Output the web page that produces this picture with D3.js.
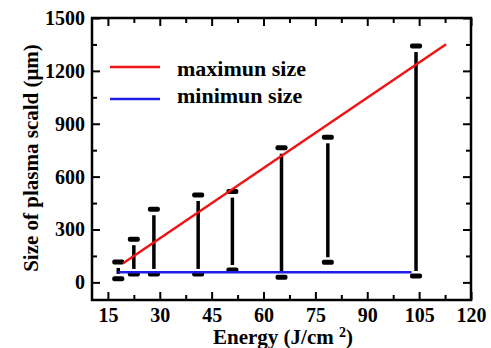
<!DOCTYPE html>
<html>
<head>
<meta charset="utf-8">
<script src="https://cdn.jsdelivr.net/npm/d3@7"></script>
<style>
  body { margin: 0; background: #fff; }
  text { font-family: "Liberation Serif", "Times New Roman", serif; font-weight: bold; }
</style>
</head>
<body>
<div id="chart"></div>
<script>
// energy of each shot and the scald size range measured there
var energy  = [18, 22.5, 28.3, 41.1, 51, 65.2, 78.6, 104.1];
var sizeMin = [20, 48, 48, 48, 70, 29, 114, 36];
var sizeMax = [116, 245, 415, 496, 515, 764, 823, 1341];

// fitted lines (end points)
var maxLine = [[19.4, 108], [112.8, 1351]];
var minLine = [[18, 57], [102.8, 57]];

var xTicks = [15, 30, 45, 60, 75, 90, 105, 120];
var yTicks = [0, 300, 600, 900, 1200, 1500];
var xMinor = [22.5, 37.5, 52.5, 67.5, 82.5, 97.5, 112.5];
var yMinor = [150, 450, 750, 1050, 1350];

var legendItems = [
  {label: "maximun size", color: "#f01414"},
  {label: "minimun size", color: "#1e1ee6"}
];

var width = 491, height = 348;
var margin = {top: 18, right: 20, bottom: 48, left: 92};
var plotW = 471 - margin.left, plotH = 300 - margin.top;

var svg = d3.select("#chart").append("svg")
  .attr("width", width)
  .attr("height", height);

var g = svg.append("g")
  .attr("transform", "translate(" + margin.left + "," + margin.top + ")");

var x = d3.scaleLinear().domain([10.4, 120]).range([0, plotW]);
var y = d3.scaleLinear().domain([-100, 1500]).range([plotH, 0]);

// axes: ticks point inward on all four sides
function styleAxis(sel) {
  sel.select(".domain").remove();
  sel.selectAll(".tick line").attr("stroke", "#000").attr("stroke-width", 2);
  sel.selectAll(".tick text").style("font-size", "20px").attr("fill", "#000");
}

g.append("g")
  .attr("transform", "translate(0," + plotH + ")")
  .call(d3.axisBottom(x).tickValues(xTicks).tickSizeInner(-8).tickPadding(8).tickFormat(d3.format("d")))
  .call(styleAxis);

g.append("g")
  .attr("transform", "translate(0," + plotH + ")")
  .call(d3.axisBottom(x).tickValues(xMinor).tickSizeInner(-5).tickFormat(""))
  .call(styleAxis);

g.append("g")
  .call(d3.axisTop(x).tickValues(xTicks).tickSizeInner(-8).tickFormat(""))
  .call(styleAxis);
g.append("g")
  .call(d3.axisTop(x).tickValues(xMinor).tickSizeInner(-5).tickFormat(""))
  .call(styleAxis);

g.append("g")
  .call(d3.axisLeft(y).tickValues(yTicks).tickSizeInner(-8).tickPadding(7).tickFormat(d3.format("d")))
  .call(styleAxis);
g.append("g")
  .call(d3.axisLeft(y).tickValues(yMinor).tickSizeInner(-5).tickFormat(""))
  .call(styleAxis);

g.append("g")
  .attr("transform", "translate(" + plotW + ",0)")
  .call(d3.axisRight(y).tickValues(yTicks).tickSizeInner(-8).tickFormat(""))
  .call(styleAxis);
g.append("g")
  .attr("transform", "translate(" + plotW + ",0)")
  .call(d3.axisRight(y).tickValues(yMinor).tickSizeInner(-5).tickFormat(""))
  .call(styleAxis);

// frame
g.append("rect")
  .attr("width", plotW)
  .attr("height", plotH)
  .attr("fill", "none")
  .attr("stroke", "#000")
  .attr("stroke-width", 2.5);

// range bars
var bars = g.selectAll(".bar")
  .data(energy.map(function(e, i) { return {e: e, lo: sizeMin[i], hi: sizeMax[i]}; }))
  .enter().append("g")
  .attr("class", "bar");

bars.append("line")
  .attr("x1", d => x(d.e))
  .attr("x2", d => x(d.e))
  .attr("y1", d => y(d.hi) + 6)
  .attr("y2", d => y(d.lo) - 5)
  .attr("stroke", "#000")
  .attr("stroke-width", 3.5);

bars.selectAll(".cap")
  .data(d => [{e: d.e, v: d.hi}, {e: d.e, v: d.lo}])
  .enter().append("rect")
  .attr("class", "cap")
  .attr("x", d => x(d.e) - 6)
  .attr("y", d => y(d.v) - 2.5)
  .attr("width", 12)
  .attr("height", 5)
  .attr("rx", 2)
  .attr("fill", "#000");

// fitted lines
var line = d3.line().x(d => x(d[0])).y(d => y(d[1]));

g.append("path")
  .datum(minLine)
  .attr("d", line)
  .attr("fill", "none")
  .attr("stroke", legendItems[1].color)
  .attr("stroke-width", 2.5);

g.append("path")
  .datum(maxLine)
  .attr("d", line)
  .attr("fill", "none")
  .attr("stroke", legendItems[0].color)
  .attr("stroke-width", 2.5);

// legend
var legend = g.selectAll(".legend")
  .data(legendItems)
  .enter().append("g")
  .attr("class", "legend")
  .attr("transform", (d, i) => "translate(18," + (49 + i * 32) + ")");

legend.append("line")
  .attr("x1", 0).attr("x2", 50)
  .attr("stroke", d => d.color)
  .attr("stroke-width", 2.5);

legend.append("text")
  .attr("x", 67)
  .attr("y", (d, i) => 9 - i * 5)
  .style("font-size", "22px")
  .text(d => d.label);

// axis titles
svg.append("text")
  .attr("transform", "translate(38,158) rotate(-90)")
  .attr("text-anchor", "middle")
  .style("font-size", "21px")
  .text("Size of plasma scald (\u03bcm)");

var xTitle = svg.append("text")
  .attr("x", 283)
  .attr("y", 344)
  .attr("text-anchor", "middle")
  .style("font-size", "21px");
xTitle.append("tspan").text("Energy (J/cm ");
xTitle.append("tspan").attr("dy", -7).style("font-size", "14px").text("2");
xTitle.append("tspan").attr("dy", 7).text(")");
</script>
</body>
</html>
